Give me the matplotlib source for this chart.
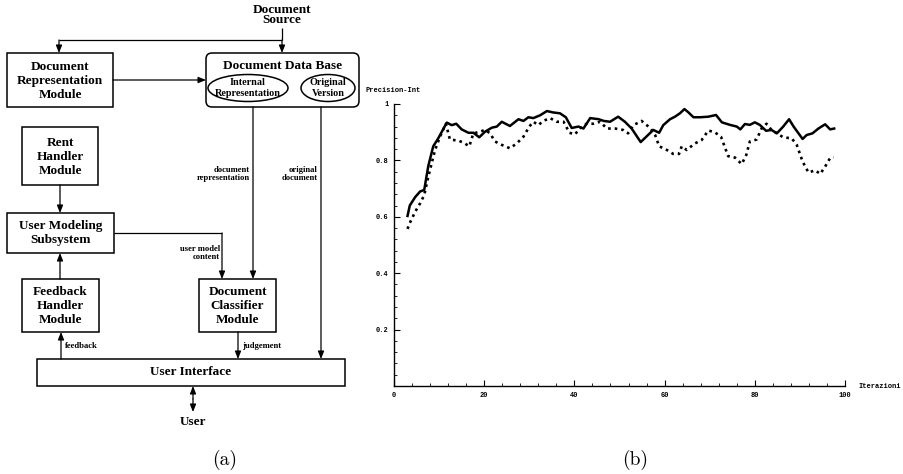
import numpy as np
import matplotlib.pyplot as plt
from matplotlib.patches import Rectangle, FancyBboxPatch, Ellipse
from matplotlib.ticker import MultipleLocator

# (b) precision vs iterations
iter_solid = [3, 3.5, 4.7, 5.8, 6.7, 7.6, 8.7, 9.8, 11.7, 12.8, 13.8, 15, 16.5, 17.6, 18.9,
              20.2, 21.7, 22.8, 23.9, 25.7, 27.6, 28.7, 29.8, 30.9, 32.4, 33.9, 35.3, 36.8,
              38.1, 39.4, 40.9, 42, 43.5, 45.4, 46.5, 47.9, 49.7, 51.2, 52.7, 54.7, 56, 57.5,
              58.8, 59.7, 61.2, 62.3, 63.4, 64.4, 65.3, 66.4, 67.9, 69.7, 71.4, 72.7, 74.5,
              76, 76.8, 77.8, 78.9, 80, 81.1, 82.5, 83.7, 84.9, 86.3, 87.6, 88.6, 90.6, 91.5,
              92.8, 94.1, 95.6, 96.7, 97.6]
prec_solid = [0.603, 0.64, 0.67, 0.69, 0.695, 0.78, 0.85, 0.878, 0.934, 0.925, 0.93, 0.91,
              0.898, 0.898, 0.882, 0.902, 0.916, 0.92, 0.937, 0.922, 0.946, 0.94, 0.953, 0.95,
              0.96, 0.975, 0.97, 0.967, 0.953, 0.915, 0.92, 0.913, 0.95, 0.946, 0.94, 0.937,
              0.955, 0.937, 0.913, 0.865, 0.885, 0.908, 0.898, 0.925, 0.946, 0.955, 0.967,
              0.982, 0.97, 0.953, 0.953, 0.955, 0.961, 0.935, 0.926, 0.92, 0.91, 0.929, 0.926,
              0.935, 0.926, 0.905, 0.908, 0.896, 0.92, 0.946, 0.92, 0.876, 0.89, 0.896, 0.913,
              0.928, 0.91, 0.913]
iter_dotted = [3, 3.5, 4.7, 5.8, 6.7, 7.6, 9.1, 10.2, 11.5, 12.4, 14.3, 15.4, 16.7, 17.6,
               18.7, 20.2, 21.3, 22.4, 23.9, 25.7, 27.2, 28.7, 30, 30.9, 32, 33.1, 34.6, 36.1,
               37.6, 38.9, 40.1, 41.2, 42.7, 44.2, 45.7, 47.2, 49, 50.8, 51.9, 53.1, 54.9,
               56.8, 57.9, 58.8, 60.5, 61.9, 63.2, 63.8, 64.9, 66.7, 68.2, 69.7, 71.1, 72.5,
               74.1, 75.6, 77.1, 78.1, 78.9, 80.4, 81.5, 82.6, 83.7, 84.9, 86.3, 88.2, 89.3,
               90.6, 91.9, 93.4, 94.5, 95.6, 96.8, 97.4]
prec_dotted = [0.557, 0.578, 0.618, 0.648, 0.677, 0.742, 0.837, 0.884, 0.93, 0.874, 0.87,
               0.863, 0.85, 0.896, 0.9, 0.908, 0.896, 0.867, 0.855, 0.843, 0.86, 0.884, 0.92,
               0.937, 0.925, 0.94, 0.95, 0.937, 0.937, 0.898, 0.892, 0.913, 0.93, 0.93, 0.937,
               0.913, 0.913, 0.908, 0.896, 0.925, 0.94, 0.915, 0.89, 0.85, 0.837, 0.823, 0.823,
               0.85, 0.837, 0.86, 0.872, 0.906, 0.9, 0.884, 0.815, 0.81, 0.787, 0.819, 0.867,
               0.874, 0.913, 0.93, 0.908, 0.896, 0.882, 0.878, 0.855, 0.796, 0.757, 0.765,
               0.752, 0.778, 0.811, 0.81]

x_ticks = [0, 20, 40, 60, 80, 100]
x_ticklabels = ["0", "20", "40", "60", "80", "100"]
y_ticks = [0.2, 0.4, 0.6, 0.8, 1.0]
y_ticklabels = ["0.2", "0.4", "0.6", "0.8", "1"]

W, H = 904, 474
fig = plt.figure(figsize=(W / 100, H / 100), dpi=100)

# ---- (a) block diagram, pixel coords (y down)
ax = fig.add_axes([0, 0, 1, 1])
ax.set_xlim(0, W)
ax.set_ylim(H, 0)
ax.axis("off")

serif = "Liberation Serif"
LW = 0.9


def txt(x, y, s, size=9.5, ha="center", weight="bold", **kw):
    ax.text(x, y, s, ha=ha, va="center", fontsize=size, family=serif, fontweight=weight, **kw)


def box(x0, y0, x1, y1, lines, ys):
    ax.add_patch(Rectangle((x0, y0), x1 - x0, y1 - y0, fill=False, lw=1.1, ec="k"))
    for s, y in zip(lines, ys):
        txt((x0 + x1) / 2, y, s)


def line(xs, ys):
    ax.plot(xs, ys, color="k", lw=LW, solid_capstyle="butt")


def arrow(x0, y0, x1, y1, style="-|>"):
    ax.annotate("", xy=(x1, y1), xytext=(x0, y0),
                arrowprops=dict(arrowstyle=style + ",head_length=0.45,head_width=0.18",
                                lw=LW, color="k", shrinkA=0, shrinkB=0))


txt(282, 15, "Document\nSource", linespacing=0.85)
line([282, 282], [28, 40])
arrow(282, 40, 282, 53)
line([282, 59], [40, 40])
arrow(59, 40, 59, 53)

box(7, 53, 113, 107, ["Document", "Representation", "Module"], [67, 81, 95])
arrow(113, 80, 206, 80)

ax.add_patch(FancyBboxPatch((206, 53), 153, 54, boxstyle="round,pad=0,rounding_size=6",
                            fill=False, lw=1.1, ec="k"))
txt(283, 66, "Document Data Base")
ax.add_patch(Ellipse((248, 88), 80, 27, fill=False, lw=1.1, ec="k"))
txt(248, 82, "Internal", size=7.3)
txt(248, 93, "Representation", size=7.3)
ax.add_patch(Ellipse((328, 88), 54, 27, fill=False, lw=1.1, ec="k"))
txt(328, 82, "Original", size=7.3)
txt(328, 93, "Version", size=7.3)

arrow(253, 107, 253, 279)
txt(250, 170, "document", size=6.2, ha="right")
txt(250, 178, "representation", size=6.2, ha="right")
arrow(321, 107, 321, 359)
txt(318, 170, "original", size=6.2, ha="right")
txt(318, 178, "document", size=6.2, ha="right")

box(22, 127, 98, 185, ["Rent", "Handler", "Module"], [143, 157, 171])
arrow(60, 185, 60, 213)
box(7, 213, 114, 253, ["User Modeling", "Subsystem"], [226, 240])
line([114, 222], [233, 233])
arrow(222, 233, 222, 279)
txt(220, 249, "user model", size=6.2, ha="right")
txt(220, 257, "content", size=6.2, ha="right")

box(22, 279, 99, 332, ["Feedback", "Handler", "Module"], [292, 306, 320])
arrow(60, 279, 60, 253)
box(199, 279, 276, 332, ["Document", "Classifier", "Module"], [292, 306, 320])

box(37, 359, 345, 386, ["User Interface"], [372])
arrow(61, 359, 61, 332)
txt(65, 346, "feedback", size=6.2, ha="left")
arrow(238, 332, 238, 359)
txt(242, 346, "judgement", size=6.2, ha="left")
arrow(193, 399, 193, 386)
arrow(193, 399, 193, 412)
txt(193, 422, "User")

ax.text(225, 460, "(a)", ha="center", va="center", fontsize=14, family="cmr10")
ax.text(635, 460, "(b)", ha="center", va="center", fontsize=14, family="cmr10")

# ---- (b) precision curves
ax2 = fig.add_axes([394 / W, (H - 386) / H, 451 / W, 282 / H])
ax2.patch.set_alpha(0)
ax2.plot(iter_solid, prec_solid, color="k", lw=1.8)
ax2.plot(iter_dotted, prec_dotted, color="k", lw=1.9, linestyle=(0, (1, 1.5)))
ax2.set_xlim(0, 100)
ax2.set_ylim(0, 1)
for s in ["top", "right"]:
    ax2.spines[s].set_visible(False)
for s in ["left", "bottom"]:
    ax2.spines[s].set_linewidth(1.0)

mono = "Liberation Mono"
ax2.set_xticks(x_ticks)
ax2.set_xticklabels(x_ticklabels, fontsize=5, fontweight="bold", family=mono)
ax2.set_yticks(y_ticks)
ax2.set_yticklabels(y_ticklabels, fontsize=5, fontweight="bold", family=mono)
ax2.xaxis.set_minor_locator(MultipleLocator(4))
ax2.yaxis.set_minor_locator(MultipleLocator(0.04))
ax2.tick_params(which="major", direction="in", length=4, width=0.8, pad=4)
ax2.tick_params(which="minor", direction="in", length=2, width=0.6)

fig.text(366 / W, 1 - 90 / H, "Precision-Int", fontsize=5, fontweight="bold",
         family=mono, ha="left", va="center")
fig.text(858 / W, 1 - 387 / H, "Iterazioni", fontsize=5, fontweight="bold",
         family=mono, ha="left", va="center")

fig.savefig("out.png", dpi=100)
